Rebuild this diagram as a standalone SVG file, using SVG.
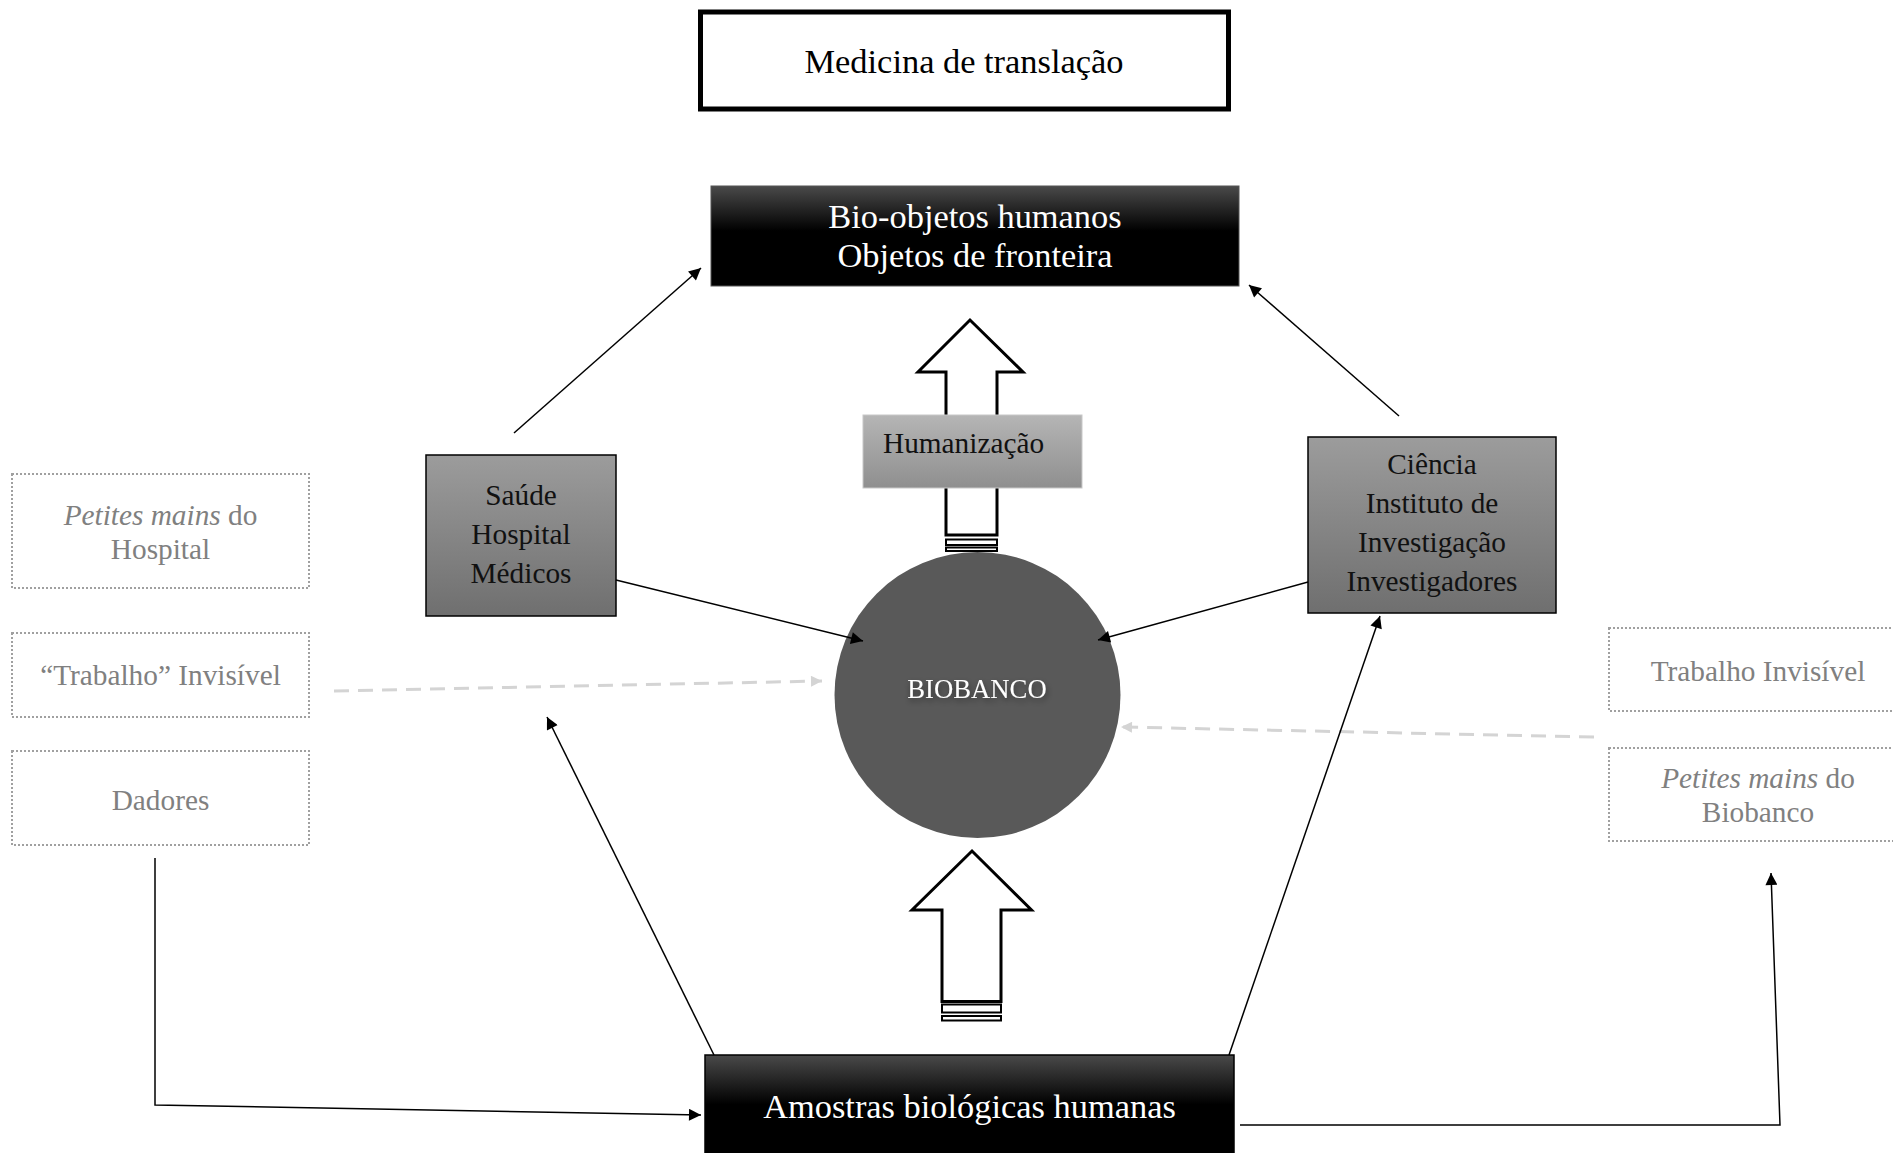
<svg xmlns="http://www.w3.org/2000/svg" width="1893" height="1153" viewBox="0 0 1893 1153">
<defs>
<style>
text{font-family:"Liberation Serif","Times New Roman",serif;}
.big{font-size:34.4px;text-anchor:middle;}
.mid{font-size:29.3px;text-anchor:middle;fill:#111;}
.ghost{font-size:29.3px;text-anchor:middle;fill:#808080;}
.dot{fill:#fff;stroke:#a0a0a0;stroke-width:2;stroke-dasharray:2 2;}
.conn{stroke:#000;stroke-width:1.5;fill:none;}
.dash{stroke:#d4d4d4;stroke-width:3;fill:none;stroke-dasharray:15 9;}
.hollow{fill:#fff;stroke:#000;stroke-width:3;stroke-linejoin:miter;}
.grey{stroke:#000;stroke-width:1.5;}
</style>
<linearGradient id="gDark" x1="0" y1="0" x2="0" y2="1">
<stop offset="0" stop-color="#4a4a4a"/>
<stop offset="0.45" stop-color="#000"/>
<stop offset="1" stop-color="#000"/>
</linearGradient>
<linearGradient id="gMid" x1="0" y1="0" x2="0" y2="1">
<stop offset="0" stop-color="#9c9c9c"/>
<stop offset="1" stop-color="#6f6f6f"/>
</linearGradient>
<linearGradient id="gLight" x1="0" y1="0" x2="0" y2="1">
<stop offset="0" stop-color="#b5b5b5"/>
<stop offset="1" stop-color="#8f8f8f"/>
</linearGradient>
<filter id="tshadow" x="-20%" y="-50%" width="140%" height="200%">
<feDropShadow dx="1" dy="3" stdDeviation="3" flood-color="#000" flood-opacity="0.45"/>
</filter>
<marker id="ah" viewBox="0 0 10 10" refX="10" refY="5" markerWidth="17" markerHeight="12" markerUnits="userSpaceOnUse" orient="auto">
<path d="M0,0 L10,5 L0,10 z" fill="#000"/>
</marker>
<marker id="ahg" viewBox="0 0 10 10" refX="10" refY="5" markerWidth="14" markerHeight="11" markerUnits="userSpaceOnUse" orient="auto">
<path d="M0,0 L10,5 L0,10 z" fill="#d4d4d4"/>
</marker>
</defs>
<rect width="1893" height="1153" fill="#fff"/>

<g id="medicina">
<rect x="700.5" y="12" width="528" height="97" fill="#fff" stroke="#000" stroke-width="5"/>
<text class="big" x="964" y="73" fill="#000">Medicina de translação</text>
</g>

<g id="bioobjetos">
<rect x="711" y="186" width="528" height="100" fill="url(#gDark)" stroke="#555" stroke-width="1"/>
<text class="big" x="975" y="228" fill="#fff">Bio-objetos humanos</text>
<text class="big" x="975" y="267" fill="#fff">Objetos de fronteira</text>
</g>

<g id="seta-humanizacao">
<path class="hollow" d="M946,535 L946,372 L918,372 L970,320 L1023,372 L997,372 L997,535 Z"/>
<rect x="946" y="539.5" width="51" height="5.5" fill="#fff" stroke="#000" stroke-width="2"/>
<rect x="946" y="547.5" width="51" height="3.5" fill="#fff" stroke="#000" stroke-width="2"/>
</g>

<g id="humanizacao">
<rect x="863" y="415" width="219" height="73" fill="url(#gLight)" stroke="#c8c8c8" stroke-width="1"/>
<text x="883" y="453" font-size="29.3" fill="#111">Humanização</text>
</g>

<g id="saude">
<rect x="426" y="455" width="190" height="161" fill="url(#gMid)" class="grey"/>
<text class="mid" x="521" y="505">Saúde</text>
<text class="mid" x="521" y="544">Hospital</text>
<text class="mid" x="521" y="583">Médicos</text>
</g>

<g id="ciencia">
<rect x="1308" y="437" width="248" height="176" fill="url(#gMid)" class="grey"/>
<text class="mid" x="1432" y="474">Ciência</text>
<text class="mid" x="1432" y="513">Instituto de</text>
<text class="mid" x="1432" y="552">Investigação</text>
<text class="mid" x="1432" y="591">Investigadores</text>
</g>

<g id="biobanco">
<circle cx="977.5" cy="695" r="143" fill="#595959"/>
<text x="977" y="698" font-size="26.7" text-anchor="middle" fill="#fff" filter="url(#tshadow)">BIOBANCO</text>
</g>

<g id="seta-amostras">
<path class="hollow" d="M942,1001.5 L942,910 L912,910 L972,851 L1031.5,910 L1001,910 L1001,1001.5 Z"/>
<rect x="942" y="1004.5" width="59" height="8" fill="#fff" stroke="#000" stroke-width="2"/>
<rect x="942" y="1016" width="59" height="4.5" fill="#fff" stroke="#000" stroke-width="2"/>
</g>

<g id="amostras">
<rect x="705" y="1055" width="529" height="110" fill="url(#gDark)" stroke="#000" stroke-width="1.5"/>
<text class="big" x="969.5" y="1118" fill="#fff">Amostras biológicas humanas</text>
</g>

<g id="petites-hospital">
<rect class="dot" x="12" y="474" width="297" height="114"/>
<text class="ghost" x="160.5" y="525"><tspan font-style="italic">Petites mains</tspan> do</text>
<text class="ghost" x="160.5" y="559">Hospital</text>
</g>

<g id="trabalho-esq">
<rect class="dot" x="12" y="633" width="297" height="84"/>
<text class="ghost" x="160.5" y="685">“Trabalho” Invisível</text>
</g>

<g id="dadores">
<rect class="dot" x="12" y="751" width="297" height="94"/>
<text class="ghost" x="160.5" y="810">Dadores</text>
</g>

<g id="trabalho-dir">
<rect class="dot" x="1609" y="628" width="298" height="83"/>
<text class="ghost" x="1758" y="681">Trabalho Invisível</text>
</g>

<g id="petites-biobanco">
<rect class="dot" x="1609" y="748" width="298" height="93"/>
<text class="ghost" x="1758" y="788"><tspan font-style="italic">Petites mains</tspan> do</text>
<text class="ghost" x="1758" y="822">Biobanco</text>
</g>

<g id="connectors">
<line class="conn" x1="514" y1="433" x2="701" y2="268" marker-end="url(#ah)"/>
<line class="conn" x1="1399" y1="416" x2="1249" y2="285" marker-end="url(#ah)"/>
<line class="conn" x1="616" y1="580" x2="863" y2="641" marker-end="url(#ah)"/>
<line class="conn" x1="1308" y1="582" x2="1098" y2="640" marker-end="url(#ah)"/>
<line class="dash" x1="334" y1="691" x2="822" y2="681" marker-end="url(#ahg)"/>
<line class="dash" x1="1594" y1="737" x2="1121" y2="727" marker-end="url(#ahg)"/>
<line class="conn" x1="714" y1="1055" x2="547" y2="717" marker-end="url(#ah)"/>
<line class="conn" x1="1229" y1="1055" x2="1380" y2="616" marker-end="url(#ah)"/>
<polyline class="conn" points="155,858 155,1105 701,1115" marker-end="url(#ah)"/>
<polyline class="conn" points="1240,1125 1780,1125 1771,873" marker-end="url(#ah)"/>
</g>
</svg>
